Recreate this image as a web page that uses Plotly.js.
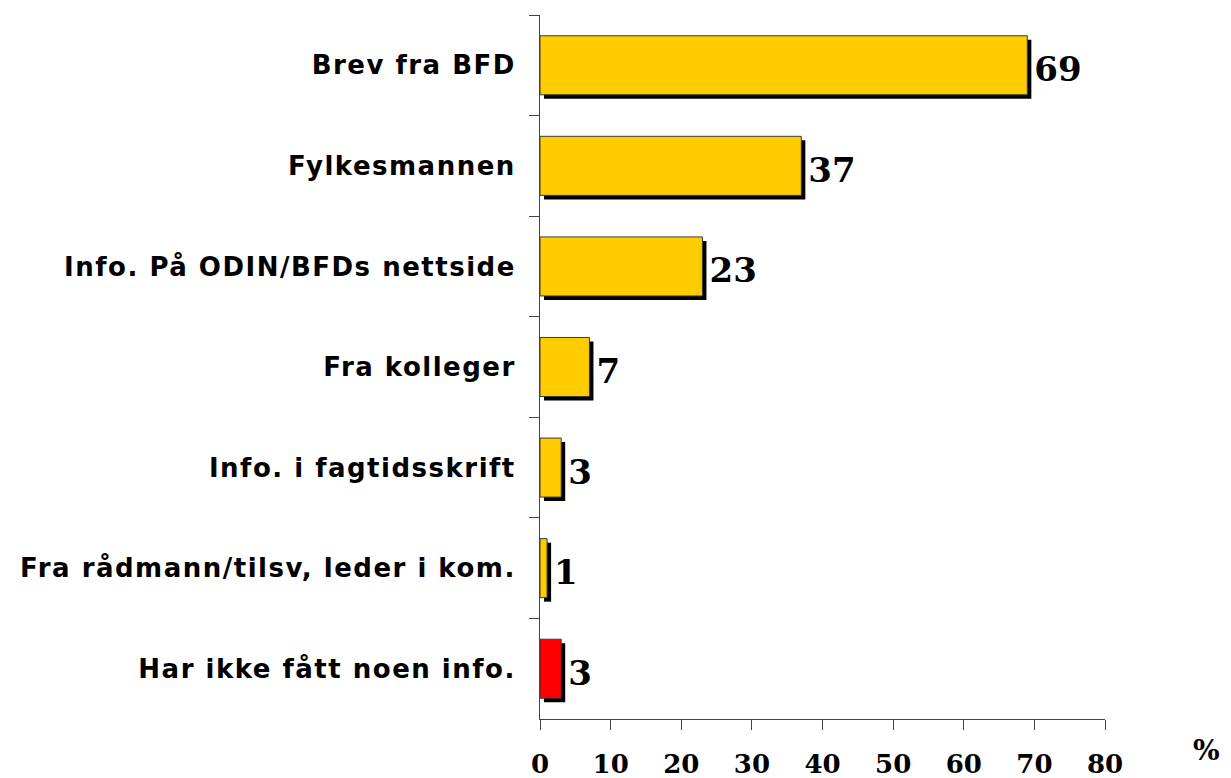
<!DOCTYPE html>
<html>
<head>
<meta charset="utf-8">
<script src="https://cdn.plot.ly/plotly-3.0.1.min.js"></script>
<style>
  html, body { margin: 0; padding: 0; background: #fff; }
  #chart { width: 1231px; height: 778px; }
  .yaxislayer-above .ytick text { letter-spacing: 1.5px; }
</style>
</head>
<body>
<div id="chart"></div>
<script>
// ---- data ----
const categories = [
  "Brev fra BFD",
  "Fylkesmannen",
  "Info. På ODIN/BFDs nettside",
  "Fra kolleger",
  "Info. i fagtidsskrift",
  "Fra rådmann/tilsv, leder i kom.",
  "Har ikke fått noen info."
];
const values = [69, 37, 23, 7, 3, 1, 3];
const xTickValues = [0, 10, 20, 30, 40, 50, 60, 70, 80];
const unitLabel = "%";

// ---- style ----
const barColors = ["#FFCC00", "#FFCC00", "#FFCC00", "#FFCC00", "#FFCC00", "#FFCC00", "#FF0000"];
const barWidth = 0.587;
const shadowDx = 0.57;   // x units (~4px)
const shadowDy = 0.04;   // category units (~4px)

const shadow = {
  type: "bar",
  orientation: "h",
  y: categories,
  x: values,
  base: shadowDx,
  width: barWidth,
  offset: -barWidth / 2 + shadowDy,
  marker: { color: "#000000", line: { width: 0 } },
  text: values.map(String),
  textposition: "outside",
  constraintext: "none",
  cliponaxis: false,
  textfont: { family: "DejaVu Serif", size: 34, weight: "bold", color: "#000" },
  hoverinfo: "skip",
  showlegend: false
};

const bars = {
  type: "bar",
  orientation: "h",
  y: categories,
  x: values,
  width: barWidth,
  marker: { color: barColors, line: { color: "#3a3a3a", width: 1 } },
  hoverinfo: "skip",
  showlegend: false
};

const layout = {
  width: 1231,
  height: 778,
  margin: { l: 540, r: 126, t: 15, b: 59 },
  paper_bgcolor: "#ffffff",
  plot_bgcolor: "#ffffff",
  barmode: "overlay",
  showlegend: false,
  xaxis: {
    range: [0, 80],
    tickvals: xTickValues,
    ticktext: xTickValues.map(String),
    showgrid: false,
    zeroline: false,
    showline: true,
    linecolor: "#444",
    linewidth: 1,
    ticks: "outside",
    ticklen: 10,
    tickcolor: "#444",
    tickwidth: 1,
    ticklabelstandoff: 12,
    tickfont: { family: "DejaVu Serif", size: 26, weight: "bold", color: "#000" }
  },
  yaxis: {
    type: "category",
    autorange: "reversed",
    showgrid: false,
    zeroline: false,
    showline: true,
    linecolor: "#444",
    linewidth: 1,
    ticks: "outside",
    tickson: "boundaries",
    ticklen: 10,
    tickcolor: "#444",
    tickwidth: 1,
    ticklabelstandoff: 18,
    tickfont: { family: "DejaVu Sans", size: 26, weight: "bold", color: "#000" }
  },
  annotations: [{
    text: unitLabel,
    xref: "paper", yref: "paper",
    x: 1.18, y: -0.045,
    xanchor: "center", yanchor: "middle",
    showarrow: false,
    font: { family: "DejaVu Serif", size: 28, weight: "bold", color: "#000" }
  }]
};

Plotly.newPlot("chart", [shadow, bars], layout, { staticPlot: true, displayModeBar: false });
</script>
</body>
</html>
